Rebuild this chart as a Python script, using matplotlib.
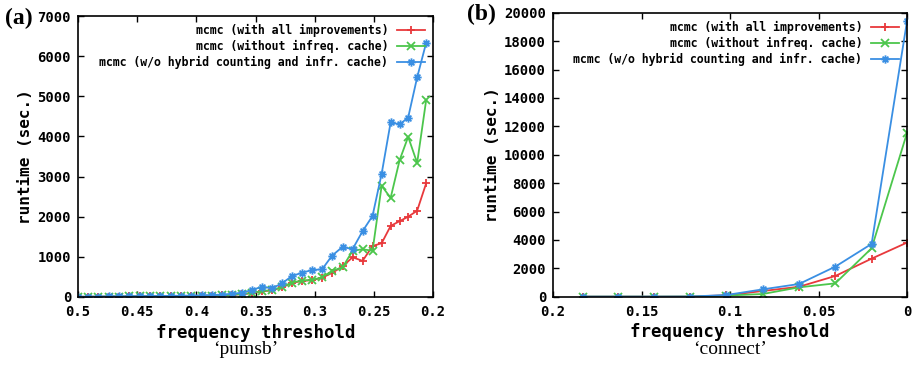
import numpy as np
import matplotlib
matplotlib.use('Agg')
import matplotlib.pyplot as plt
from matplotlib.path import Path

# panel (a) 'pumsb'
thr_a = [0.5, 0.4915, 0.4831, 0.4742, 0.4653, 0.4569, 0.448, 0.4391, 0.4307,
         0.4218, 0.4129, 0.4045, 0.3956, 0.3867, 0.3783, 0.3698, 0.3614, 0.3529,
         0.3445, 0.336, 0.3276, 0.3191, 0.3107, 0.3022, 0.2937, 0.2853, 0.2764,
         0.268, 0.2595, 0.2511, 0.2434, 0.2358, 0.2282, 0.221, 0.2134, 0.2058]
red_a = [5, 5, 8, 10, 12, 14, 15, 17, 19, 21, 23, 26, 30, 35, 42, 55, 70, 95,
         140, 165, 240, 350, 400, 420, 480, 600, 760, 990, 900, 1270, 1340,
         1770, 1890, 2000, 2150, 2830]
green_a = [5, 5, 8, 10, 12, 14, 15, 17, 19, 21, 23, 26, 30, 35, 42, 55, 75, 100,
           150, 170, 250, 360, 410, 425, 490, 650, 740, 1150, 1190, 1150, 2770,
           2470, 3410, 3990, 3340, 4900]
blue_a = [5, 8, 10, 15, 18, 20, 22, 24, 26, 28, 31, 35, 40, 48, 60, 80, 107, 174,
          256, 217, 341, 523, 605, 672, 690, 1030, 1250, 1190, 1640, 2020, 3070,
          4350, 4300, 4470, 5470, 6330]

# panel (b) 'connect'
thr_b = [0.183, 0.163, 0.143, 0.1225, 0.102, 0.0815, 0.061, 0.0405, 0.02, 0.0]
red_b = [5, 5, 5, 10, 100, 400, 700, 1460, 2680, 3810]
green_b = [5, 5, 5, 10, 80, 190, 660, 940, 3410, 11530]
blue_b = [5, 5, 5, 10, 120, 518, 894, 2118, 3718, 19400]

labels = ['mcmc (with all improvements)',
          'mcmc (without infreq. cache)',
          'mcmc (w/o hybrid counting and infr. cache)']
colors = ['#e8393c', '#4cc64c', '#3a8fe3']

# gnuplot point type 3: plus and cross on top of each other
star = Path([(-1, 0), (1, 0), (0, -1), (0, 1), (-0.7, -0.7), (0.7, 0.7),
             (-0.7, 0.7), (0.7, -0.7)],
            [Path.MOVETO, Path.LINETO] * 4)
markers = ['+', 'x', star]

mono = 'DejaVu Sans Mono'
serif = 'Liberation Serif'

fig = plt.figure(figsize=(9.17, 3.66), dpi=100)
ax1 = fig.add_axes([78/917, 69/366, 355/917, 281/366])
ax2 = fig.add_axes([553/917, 69.3/366, 354/917, 284/366])


def draw(ax, x, ys, xlim, xt, xtl, ylim, yt):
    for y, c, m, lab in zip(ys, colors, markers, labels):
        ax.plot(x, y, color=c, marker=m, ms=6, mew=1.3, mfc='none', lw=1.3,
                label=lab)
    ax.set_xlim(*xlim)
    ax.set_ylim(*ylim)
    ax.set_xticks(xt)
    ax.set_xticklabels(xtl)
    ax.set_yticks(yt)
    ax.set_yticklabels([str(v) for v in yt])
    ax.tick_params(direction='in', top=True, right=True, length=4, width=1,
                   labelsize=10)
    ax.tick_params(axis='y', pad=5)
    ax.tick_params(axis='x', pad=6)
    for lb in ax.get_xticklabels() + ax.get_yticklabels():
        lb.set_family(mono)
        lb.set_weight('bold')
    for s in ax.spines.values():
        s.set_linewidth(1.2)
    ax.set_xlabel('frequency threshold', family=mono, weight='bold',
                  fontsize=12.5, labelpad=3)
    ax.set_ylabel('runtime (sec.)', family=mono, weight='bold', fontsize=11.5,
                  labelpad=3)
    leg = ax.legend(loc='upper right', frameon=False, markerfirst=False,
                    prop={'family': mono, 'weight': 'bold', 'size': 8.3},
                    handlelength=2.4, handletextpad=0.8, labelspacing=0.25,
                    borderaxespad=0.3)
    return leg


draw(ax1, thr_a, [red_a, green_a, blue_a], (0.5, 0.2),
     [0.5, 0.45, 0.4, 0.35, 0.3, 0.25, 0.2],
     ['0.5', '0.45', '0.4', '0.35', '0.3', '0.25', '0.2'],
     (0, 7000), list(range(0, 7001, 1000)))
draw(ax2, thr_b, [red_b, green_b, blue_b], (0.2, 0.0),
     [0.2, 0.15, 0.1, 0.05, 0.0], ['0.2', '0.15', '0.1', '0.05', '0'],
     (0, 20000), list(range(0, 20001, 2000)))

fig.text(5/917, 1 - 18/366, '(a)', family=serif, weight='bold', fontsize=17,
         va='center', ha='left')
fig.text(467/917, 1 - 14/366, '(b)', family=serif, weight='bold', fontsize=17,
         va='center', ha='left')
fig.text(246/917, 1 - 350/366, '\u2018pumsb\u2019', family=serif, fontsize=14,
         va='center', ha='center')
fig.text(730/917, 1 - 350/366, '\u2018connect\u2019', family=serif, fontsize=14,
         va='center', ha='center')

fig.savefig('out.png', dpi=100)
